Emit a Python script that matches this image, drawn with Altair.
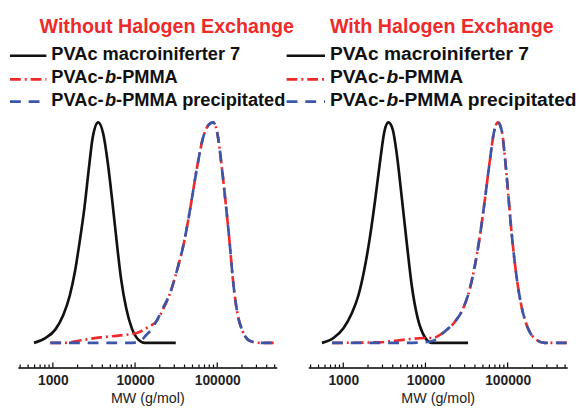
import altair as alt
import pandas as pd

FONT = "Liberation Sans"
RED = "#ee2a2a"
BLUE = "#3b55a8"
BLACK = "#111111"

# ---------------- data ----------------
# Left panel: Without Halogen Exchange
L_black_mw = [590, 810, 1070, 1340, 1610, 1850, 2110, 2430, 2780, 3050, 3560, 4120, 4680,
              5270, 5940, 6760, 7820, 9120, 10960, 13150, 31300]
L_black_i = [0, 0.022, 0.06, 0.126, 0.216, 0.32, 0.454, 0.617, 0.811, 0.93, 1.0, 0.945, 0.811,
             0.647, 0.469, 0.29, 0.156, 0.067, 0.015, 0, 0]
L_red_mw = [930, 1400, 2210, 3830, 6620, 10470, 15100, 18110, 21730, 26120, 32730, 39360, 47320,
            56750, 68080, 78160, 89540, 100900, 112500, 125600, 141600, 154900, 174600, 204200,
            255900, 336500, 486400]
L_red_i = [0, 0, 0.012, 0.025, 0.034, 0.045, 0.076, 0.097, 0.149, 0.216, 0.335, 0.454, 0.617,
           0.795, 0.938, 0.987, 1.0, 0.945, 0.811, 0.647, 0.454, 0.290, 0.141, 0.052,
           0.007, 0, 0]
L_blue_mw = [930, 3830, 8710, 11480, 13770, 15810, 18110, 22750, 26120, 32730, 39360, 47320,
             56750, 68080, 78160, 89540, 100900, 112500, 125600, 141600, 154900, 174600, 204200,
             255900, 336500, 486400]
L_blue_i = [0, 0, 0, 0.007, 0.037, 0.060, 0.097, 0.171, 0.216, 0.335, 0.454, 0.617,
            0.795, 0.938, 0.987, 1.0, 0.945, 0.811, 0.647, 0.454, 0.290, 0.141, 0.052,
            0.007, 0, 0]

# Right panel: With Halogen Exchange
R_black_mw = [550, 760, 1010, 1270, 1530, 1810, 2120, 2440, 2810, 3170, 3540, 4000, 4480, 5140,
              5920, 6810, 8040, 9680, 11890, 33000]
R_black_i = [0, 0.022, 0.067, 0.134, 0.216, 0.335, 0.484, 0.647, 0.826, 0.96, 1.0, 0.967, 0.856,
             0.662, 0.454, 0.26, 0.112, 0.030, 0, 0]
R_red_mw = [730, 2810, 5650, 9860, 11890, 17220, 22800, 28710, 34590, 39810, 45810, 52600, 60530,
            68230, 76210, 85310, 92050, 100900, 110900, 125000, 146600, 176200, 222800, 280500,
            525000]
R_red_i = [0, 0.003, 0.015, 0.022, 0.022, 0.052, 0.096, 0.156, 0.244, 0.348, 0.481, 0.644, 0.822,
           0.956, 1.0, 0.956, 0.852, 0.689, 0.511, 0.333, 0.170, 0.067, 0.015, 0, 0]
R_blue_mw = [730, 5650, 9860, 11890, 17220, 22800, 28710, 34590, 39810, 45810, 52600, 60530,
             68230, 76210, 85310, 92050, 100900, 110900, 125000, 146600, 176200, 222800, 280500,
             525000]
R_blue_i = [0, 0, 0.003, 0.007, 0.052, 0.096, 0.156, 0.244, 0.348, 0.481, 0.644, 0.822,
            0.956, 1.0, 0.956, 0.852, 0.689, 0.511, 0.333, 0.170, 0.067, 0.015, 0, 0]

MAJOR_TICKS = [1000, 10000, 100000]
MINOR_TICKS = [400, 500, 600, 700, 800, 900,
               2000, 3000, 4000, 5000, 6000, 7000, 8000, 9000,
               20000, 30000, 40000, 50000, 60000, 70000, 80000, 90000,
               200000, 300000, 400000, 500000]

TITLES = ["Without Halogen Exchange", "With Halogen Exchange"]
X_TITLE = "MW (g/mol)"

# ---------------- layout ----------------
W, H = 263, 362
xscale = alt.Scale(type="log", domain=[375, 530000], nice=False)
yscale = alt.Scale(domain=[-0.1116, 1.5045], nice=False, zero=False)

RED_DASH = [11, 4, 2, 4]
BLUE_DASH = [11, 8]

XAX = alt.Axis(values=MAJOR_TICKS, format="d", ticks=False, grid=False,
               domainColor="black", domainWidth=1.5, labelFont=FONT,
               labelFontSize=14, labelFontWeight="bold", labelColor="#222",
               labelPadding=6, title=X_TITLE, titleFont=FONT, titleFontSize=14.5,
               titleFontWeight="normal", titleColor="#222", titlePadding=5)


def curve(mw, inten, color, dash=None):
    df = pd.DataFrame({"MW": mw, "I": inten})
    kw = dict(color=color, strokeWidth=2.7, interpolate="monotone", clip=True)
    if dash:
        kw["strokeDash"] = dash
    return alt.Chart(df).mark_line(**kw).encode(
        x=alt.X("MW:Q", scale=xscale, axis=XAX),
        y=alt.Y("I:Q", scale=yscale, axis=None),
    )


def ticks(vals, length):
    return alt.Chart(pd.DataFrame({"MW": vals})).mark_rule(color="black", strokeWidth=1.2).encode(
        x=alt.X("MW:Q", scale=xscale, axis=XAX), y=alt.value(H - length), y2=alt.value(H))


def label(text, x, y, size, color=BLACK, style="normal"):
    return alt.Chart(pd.DataFrame({"t": [text]})).mark_text(
        font=FONT, fontSize=size, fontWeight="bold", fontStyle=style, color=color,
        align="left", baseline="alphabetic").encode(
        text="t:N", x=alt.value(x), y=alt.value(y))


def sym(x0, x1, y, color, dash=None):
    kw = dict(color=color, strokeWidth=2.7)
    if dash:
        kw["strokeDash"] = dash
    return alt.Chart(pd.DataFrame({"a": [0]})).mark_rule(**kw).encode(
        x=alt.value(x0), x2=alt.value(x1), y=alt.value(y))


def panel(title, bmw, bi, rmw, ri, umw, ui, sx0, sx1, tx, fs):
    w1 = 2.945 * fs
    wb = 0.611 * fs
    layers = [
        curve(bmw, bi, BLACK),
        curve(rmw, ri, RED, RED_DASH),
        curve(umw, ui, BLUE, BLUE_DASH),
        ticks(MINOR_TICKS, 3),
        ticks(MAJOR_TICKS, 5),
        label(title, 22, 22, 20, RED),
        sym(sx0, sx1, 45.3, BLACK),
        sym(sx0, sx1, 69.3, RED, RED_DASH),
        sym(sx0, sx1, 92, BLUE, BLUE_DASH),
        label("PVAc macroiniferter 7", tx, 50, fs),
        label("PVAc-", tx, 73.5, fs),
        label("b", tx + w1, 73.5, fs, style="italic"),
        label("-PMMA", tx + w1 + wb, 73.5, fs),
        label("PVAc-", tx, 96, fs),
        label("b", tx + w1, 96, fs, style="italic"),
        label("-PMMA precipitated", tx + w1 + wb, 96, fs),
    ]
    return alt.layer(*layers).properties(width=W, height=H)


left = panel(TITLES[0], L_black_mw, L_black_i, L_red_mw, L_red_i, L_blue_mw, L_blue_i,
             -8, 29, 34, 18.5)
right = panel(TITLES[1], R_black_mw, R_black_i, R_red_mw, R_red_i, R_blue_mw, R_blue_i,
              -22, 17, 22, 19.5)

chart = alt.hconcat(left, right, spacing=32, bounds="flush").configure_view(
    stroke=None).properties(padding=0)

chart.save("out.html", embed_options={"renderer": "svg", "actions": False})
